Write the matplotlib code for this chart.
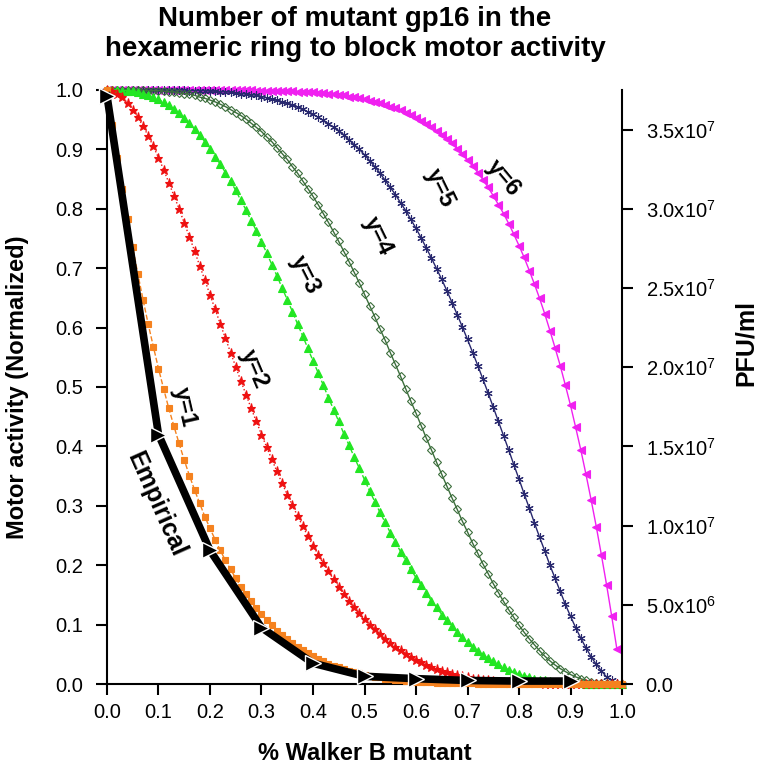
import matplotlib
matplotlib.use("Agg")
import matplotlib.pyplot as plt
import numpy as np

plt.rcParams["font.family"] = ["Liberation Sans", "DejaVu Sans"]
plt.rcParams["mathtext.default"] = "regular"

# % Walker B mutant, sampled every 0.01
mutant_fraction = np.round(np.arange(101) * 0.01, 2)

# motor activity when y mutant subunits block the hexamer
y1_activity = [
    1.000, 0.941, 0.886, 0.833, 0.783, 0.735, 0.690, 0.647, 0.606, 0.568,
    0.531, 0.497, 0.464, 0.434, 0.405, 0.377, 0.351, 0.327, 0.304, 0.282,
    0.262, 0.243, 0.225, 0.208, 0.193, 0.178, 0.164, 0.151, 0.139, 0.128,
    0.118, 0.108, 0.099, 0.090, 0.083, 0.075, 0.069, 0.063, 0.057, 0.052,
    0.047, 0.042, 0.038, 0.034, 0.031, 0.028, 0.025, 0.022, 0.020, 0.018,
    0.016, 0.014, 0.012, 0.011, 0.009, 0.008, 0.007, 0.006, 0.005, 0.005,
    0.004, 0.004, 0.003, 0.003, 0.002, 0.002, 0.002, 0.001, 0.001, 0.001,
    0.001, 0.001, 0.000, 0.000, 0.000, 0.000, 0.000, 0.000, 0.000, 0.000,
    0.000, 0.000, 0.000, 0.000, 0.000, 0.000, 0.000, 0.000, 0.000, 0.000,
    0.000, 0.000, 0.000, 0.000, 0.000, 0.000, 0.000, 0.000, 0.000, 0.000,
    0.000,
]
y2_activity = [
    1.000, 0.999, 0.994, 0.988, 0.978, 0.967, 0.954, 0.939, 0.923, 0.905,
    0.886, 0.866, 0.844, 0.822, 0.800, 0.776, 0.753, 0.729, 0.704, 0.680,
    0.655, 0.631, 0.606, 0.582, 0.558, 0.534, 0.510, 0.487, 0.464, 0.442,
    0.420, 0.399, 0.378, 0.358, 0.338, 0.319, 0.301, 0.283, 0.266, 0.249,
    0.233, 0.218, 0.203, 0.190, 0.176, 0.164, 0.152, 0.140, 0.129, 0.119,
    0.109, 0.100, 0.092, 0.084, 0.076, 0.069, 0.063, 0.057, 0.051, 0.046,
    0.041, 0.037, 0.032, 0.029, 0.025, 0.022, 0.020, 0.017, 0.015, 0.013,
    0.011, 0.009, 0.008, 0.007, 0.006, 0.005, 0.004, 0.003, 0.003, 0.002,
    0.002, 0.001, 0.001, 0.001, 0.001, 0.000, 0.000, 0.000, 0.000, 0.000,
    0.000, 0.000, 0.000, 0.000, 0.000, 0.000, 0.000, 0.000, 0.000, 0.000,
    0.000,
]
y3_activity = [
    1.000, 1.000, 1.000, 0.999, 0.999, 0.998, 0.996, 0.994, 0.991, 0.988,
    0.984, 0.979, 0.974, 0.968, 0.961, 0.953, 0.944, 0.934, 0.924, 0.913,
    0.901, 0.888, 0.875, 0.861, 0.846, 0.831, 0.814, 0.798, 0.780, 0.763,
    0.744, 0.726, 0.706, 0.687, 0.667, 0.647, 0.627, 0.606, 0.586, 0.565,
    0.544, 0.524, 0.503, 0.482, 0.462, 0.442, 0.421, 0.402, 0.382, 0.363,
    0.344, 0.325, 0.307, 0.289, 0.272, 0.255, 0.239, 0.223, 0.208, 0.193,
    0.179, 0.166, 0.153, 0.140, 0.129, 0.117, 0.107, 0.097, 0.087, 0.079,
    0.070, 0.063, 0.056, 0.049, 0.043, 0.038, 0.033, 0.028, 0.024, 0.020,
    0.017, 0.014, 0.012, 0.009, 0.007, 0.006, 0.005, 0.003, 0.003, 0.002,
    0.001, 0.001, 0.001, 0.000, 0.000, 0.000, 0.000, 0.000, 0.000, 0.000,
    0.000,
]
y4_activity = [
    1.000, 1.000, 1.000, 1.000, 1.000, 1.000, 1.000, 1.000, 0.999, 0.999,
    0.999, 0.998, 0.997, 0.997, 0.995, 0.994, 0.993, 0.991, 0.988, 0.986,
    0.983, 0.980, 0.976, 0.972, 0.967, 0.962, 0.957, 0.951, 0.944, 0.937,
    0.930, 0.921, 0.913, 0.903, 0.893, 0.883, 0.871, 0.860, 0.847, 0.834,
    0.821, 0.807, 0.792, 0.777, 0.761, 0.745, 0.728, 0.711, 0.693, 0.675,
    0.656, 0.637, 0.618, 0.598, 0.579, 0.558, 0.538, 0.518, 0.497, 0.476,
    0.456, 0.435, 0.414, 0.394, 0.373, 0.353, 0.333, 0.313, 0.294, 0.274,
    0.256, 0.237, 0.220, 0.202, 0.186, 0.169, 0.154, 0.139, 0.125, 0.112,
    0.099, 0.087, 0.076, 0.066, 0.056, 0.047, 0.039, 0.032, 0.026, 0.021,
    0.016, 0.012, 0.009, 0.006, 0.004, 0.002, 0.001, 0.001, 0.000, 0.000,
    0.000,
]
y5_activity = [
    1.000, 1.000, 1.000, 1.000, 1.000, 1.000, 1.000, 1.000, 1.000, 1.000,
    1.000, 1.000, 1.000, 1.000, 1.000, 1.000, 0.999, 0.999, 0.999, 0.999,
    0.998, 0.998, 0.997, 0.997, 0.996, 0.995, 0.994, 0.993, 0.992, 0.991,
    0.989, 0.987, 0.985, 0.983, 0.980, 0.978, 0.975, 0.971, 0.968, 0.963,
    0.959, 0.954, 0.949, 0.943, 0.937, 0.931, 0.924, 0.916, 0.908, 0.900,
    0.891, 0.881, 0.871, 0.860, 0.848, 0.836, 0.824, 0.810, 0.797, 0.782,
    0.767, 0.751, 0.734, 0.717, 0.699, 0.681, 0.662, 0.642, 0.622, 0.601,
    0.580, 0.558, 0.536, 0.513, 0.490, 0.466, 0.442, 0.418, 0.394, 0.369,
    0.345, 0.320, 0.296, 0.271, 0.247, 0.224, 0.200, 0.178, 0.156, 0.134,
    0.114, 0.095, 0.077, 0.061, 0.046, 0.033, 0.022, 0.012, 0.006, 0.001,
    0.000,
]
# y=6 stops at 0.99
y6_activity = [
    1.000, 1.000, 1.000, 1.000, 1.000, 1.000, 1.000, 1.000, 1.000, 1.000,
    1.000, 1.000, 1.000, 1.000, 1.000, 1.000, 1.000, 1.000, 1.000, 1.000,
    1.000, 1.000, 1.000, 1.000, 1.000, 1.000, 1.000, 1.000, 1.000, 0.999,
    0.999, 0.999, 0.999, 0.999, 0.998, 0.998, 0.998, 0.997, 0.997, 0.996,
    0.996, 0.995, 0.995, 0.994, 0.993, 0.992, 0.991, 0.989, 0.988, 0.986,
    0.984, 0.982, 0.980, 0.978, 0.975, 0.972, 0.969, 0.966, 0.962, 0.958,
    0.953, 0.948, 0.943, 0.937, 0.931, 0.925, 0.917, 0.910, 0.901, 0.892,
    0.882, 0.872, 0.861, 0.849, 0.836, 0.822, 0.807, 0.792, 0.775, 0.757,
    0.738, 0.718, 0.696, 0.673, 0.649, 0.623, 0.595, 0.566, 0.536, 0.503,
    0.469, 0.432, 0.394, 0.353, 0.310, 0.265, 0.217, 0.167, 0.114, 0.059,
]

empirical_x = [0.0, 0.1, 0.2, 0.3, 0.4, 0.5, 0.6, 0.7, 0.8, 0.9]
empirical_activity = [0.99, 0.42, 0.225, 0.095, 0.035, 0.013, 0.009, 0.006, 0.005, 0.005]

x_ticks = [0.0, 0.1, 0.2, 0.3, 0.4, 0.5, 0.6, 0.7, 0.8, 0.9, 1.0]
pfu_ticks = [0, 5e6, 1e7, 1.5e7, 2e7, 2.5e7, 3e7, 3.5e7]
pfu_labels = ["0.0", "5.0x10$^{6}$", "1.0x10$^{7}$", "1.5x10$^{7}$",
              "2.0x10$^{7}$", "2.5x10$^{7}$", "3.0x10$^{7}$", "3.5x10$^{7}$"]

# (values, label, colour, marker, marker face, linestyle, label position, rotation)
curves = [
    (y6_activity, "y=6", "#F020F0", "<", "#F020F0", "-", (0.769, 0.852), -50),
    (y5_activity, "y=5", "#28286E", (6, 2, 0), "#28286E", "-", (0.647, 0.835), -64),
    (y4_activity, "y=4", "#3C6E3C", "D", "none", "-", (0.526, 0.754), -64),
    (y3_activity, "y=3", "#22E622", "^", "#22E622", "--", (0.384, 0.689), -63),
    (y2_activity, "y=2", "#EE1111", "*", "#EE1111", ":", (0.286, 0.530), -67),
    (y1_activity, "y=1", "#F5821F", "s", "#F5821F", "--", (0.151, 0.466), -77),
]
marker_sizes = {"y=6": 5.5, "y=5": 6, "y=4": 4.5, "y=3": 6, "y=2": 6.5, "y=1": 3.8}

fig = plt.figure(figsize=(7.62, 7.69), dpi=100)
ax = fig.add_axes([0.1404, 0.1105, 0.6759, 0.7725])

for values, label, color, marker, face, style, pos, rot in curves:
    ax.plot(mutant_fraction[:len(values)], values, color=color, linestyle=style,
            linewidth=1.0, marker=marker, markersize=marker_sizes[label],
            markerfacecolor=face, markeredgecolor=color, markeredgewidth=0.8,
            clip_on=False, zorder=3)
    ax.text(pos[0], pos[1], label, rotation=rot, ha="center", va="center",
            fontsize=17, fontweight="bold", rotation_mode="anchor", zorder=6)

ax.plot(empirical_x, empirical_activity, color="black", linewidth=5.5,
        marker=">", markersize=12, markeredgecolor="white", markeredgewidth=1.0,
        markerfacecolor="black", clip_on=False, zorder=5)
ax.text(0.095, 0.303, "Empirical", rotation=-66, ha="center", va="center",
        fontsize=18, fontweight="bold", rotation_mode="anchor", zorder=6)

ax.set_xlim(0, 1)
ax.set_ylim(0, 1)
ax.set_xticks(x_ticks)
ax.set_xticklabels([f"{t:.1f}" for t in x_ticks])
ax.set_yticks(np.round(np.arange(11) * 0.1, 1))
ax.set_yticklabels([f"{t:.1f}" for t in np.arange(11) * 0.1])
ax.spines["top"].set_visible(False)
ax.spines["right"].set_visible(False)
for side in ["left", "bottom"]:
    ax.spines[side].set_linewidth(1.5)
ax.tick_params(axis="x", direction="out", length=8, width=1.5, labelsize=14.5, pad=6)
ax.tick_params(axis="y", direction="out", length=8, width=1.5, labelsize=14.5, pad=9)

ax2 = ax.twinx()
ax2.set_ylim(0, 3.75e7)
ax2.set_yticks(pfu_ticks)
ax2.set_yticklabels(pfu_labels)
for side in ["top", "left", "bottom"]:
    ax2.spines[side].set_visible(False)
ax2.spines["right"].set_linewidth(1.5)
ax2.tick_params(axis="y", direction="out", length=8, width=1.5, labelsize=14.5, pad=9)

W, H = 762, 769
fig.text(355 / W, 1 - 19 / H, "Number of mutant gp16 in the", ha="center", va="center",
         fontsize=20, fontweight="bold")
fig.text(355 / W, 1 - 49 / H, "hexameric ring to block motor activity", ha="center",
         va="center", fontsize=20, fontweight="bold")
fig.text(18 / W, 1 - 387 / H, "Motor activity (Normalized)", rotation=90, ha="center",
         va="center", fontsize=17, fontweight="bold")
fig.text(365 / W, 1 - 753 / H, "% Walker B mutant", ha="center", va="center",
         fontsize=17, fontweight="bold")
fig.text(746 / W, 1 - 343 / H, "PFU/ml", rotation=90, ha="center", va="center",
         fontsize=18, fontweight="bold")

fig.savefig("out.png", dpi=100)
